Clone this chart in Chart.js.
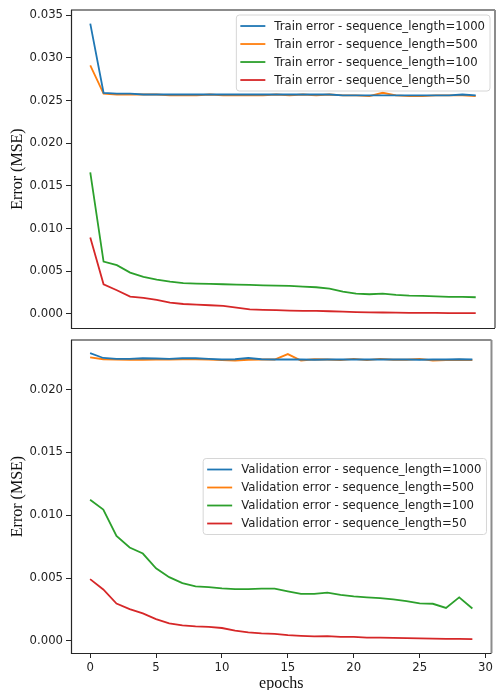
<!DOCTYPE html>
<html>
<head>
<meta charset="utf-8">
<script src="https://cdn.jsdelivr.net/npm/chart.js@4/dist/chart.umd.min.js"></script>
<style>
html,body{margin:0;padding:0;background:#fff;overflow:hidden;width:496px;height:690px;}
#c1{position:absolute;left:0;top:0;}
#c2{position:absolute;left:0;top:330px;}
</style>
</head>
<body>
<canvas id="c1" width="496" height="338"></canvas>
<canvas id="c2" width="496" height="370"></canvas>
<script>
// ---------- data ----------
const epochs = [0,1,2,3,4,5,6,7,8,9,10,11,12,13,14,15,16,17,18,19,20,21,22,23,24,25,26,27,28,29];
const xTicks = [0,5,10,15,20,25,30];
const topYTicks = [0,0.005,0.010,0.015,0.020,0.025,0.030,0.035];
const bottomYTicks = [0,0.005,0.010,0.015,0.020];

const trainLabels = ['Train error - sequence_length=1000','Train error - sequence_length=500','Train error - sequence_length=100','Train error - sequence_length=50'];
const valLabels = ['Validation error - sequence_length=1000','Validation error - sequence_length=500','Validation error - sequence_length=100','Validation error - sequence_length=50'];

const train1000 = [0.0340,0.0259,0.0258,0.0258,0.0257,0.0257,0.0257,0.0257,0.0257,0.0257,0.0257,0.0257,0.0257,0.0257,0.0257,0.0257,0.0257,0.0257,0.0257,0.0256,0.0256,0.0256,0.0256,0.0256,0.0256,0.0256,0.0256,0.0256,0.0257,0.0256];
const train500 = [0.0291,0.0258,0.0257,0.0257,0.0257,0.0257,0.0256,0.0256,0.0256,0.0257,0.0256,0.0256,0.0256,0.0256,0.0257,0.0256,0.0257,0.0256,0.0257,0.0256,0.0256,0.0255,0.0259,0.0256,0.0255,0.0255,0.0256,0.0256,0.0256,0.0255];
const train100 = [0.01659,0.00614,0.00571,0.00485,0.00434,0.00403,0.00380,0.00362,0.00356,0.00352,0.00348,0.00344,0.00340,0.00336,0.00333,0.00329,0.00321,0.00313,0.00298,0.00262,0.00239,0.00231,0.00239,0.00223,0.00215,0.00211,0.00207,0.00200,0.00200,0.00196];
const train50 = [0.00896,0.00348,0.00278,0.00203,0.00188,0.00164,0.00133,0.00117,0.00110,0.00102,0.00094,0.00074,0.00055,0.00048,0.00044,0.00040,0.00036,0.00036,0.00032,0.00028,0.00022,0.00018,0.00017,0.00015,0.00014,0.00013,0.00012,0.00011,0.00010,0.00010];

const val1000 = [0.02290,0.02252,0.02245,0.02245,0.02250,0.02248,0.02245,0.02250,0.02250,0.02245,0.02240,0.02242,0.02252,0.02242,0.02240,0.02240,0.02240,0.02238,0.02240,0.02240,0.02240,0.02240,0.02240,0.02240,0.02240,0.02238,0.02240,0.02240,0.02242,0.02240];
const val500 = [0.02257,0.02242,0.02240,0.02238,0.02238,0.02240,0.02240,0.02242,0.02242,0.02240,0.02235,0.02232,0.02238,0.02240,0.02240,0.02283,0.02232,0.02242,0.02240,0.02235,0.02245,0.02235,0.02245,0.02238,0.02238,0.02245,0.02232,0.02235,0.02238,0.02235];
const val100 = [0.01123,0.01045,0.00835,0.00743,0.00695,0.00577,0.00507,0.00459,0.00433,0.00428,0.00417,0.00412,0.00412,0.00415,0.00415,0.00394,0.00373,0.00373,0.00383,0.00365,0.00354,0.00346,0.00340,0.00330,0.00316,0.00298,0.00295,0.00262,0.00346,0.00257];
const val50 = [0.00491,0.00409,0.00297,0.00252,0.00218,0.00173,0.00139,0.00123,0.00115,0.00111,0.00102,0.00081,0.00068,0.00060,0.00055,0.00045,0.00040,0.00035,0.00037,0.00031,0.00031,0.00026,0.00025,0.00024,0.00022,0.00020,0.00018,0.00016,0.00015,0.00014];

const colors = ['#1f77b4','#ff7f0e','#2ca02c','#d62728'];

// ---------- helpers ----------
const tickFont = {family:'DejaVu Sans', size:11.7};
const titleFont = {family:'Liberation Serif', size:16};
const textColor = '#222222';

function mkDatasets(series, labels){
  return series.map((s,k)=>({
    label: labels[k],
    data: s.map((v,i)=>({x:epochs[i], y:v})),
    borderColor: colors[k],
    backgroundColor: colors[k],
    borderWidth: 1.8,
    pointRadius: 0,
    tension: 0,
    fill: false
  }));
}

const framePlugin = {
  id: 'frame',
  afterDraw(chart){
    const {ctx, chartArea:a} = chart;
    ctx.save();
    ctx.strokeStyle = '#8c8c8c';
    ctx.lineWidth = 2;
    ctx.beginPath();
    ctx.moveTo(a.left, a.top); ctx.lineTo(a.right, a.top);
    ctx.moveTo(a.right, a.top); ctx.lineTo(a.right, a.bottom);
    ctx.stroke();
    ctx.strokeStyle = '#262626';
    ctx.lineWidth = 1.2;
    ctx.beginPath();
    ctx.moveTo(a.left + 0.5, a.top); ctx.lineTo(a.left + 0.5, a.bottom + 0.5); ctx.lineTo(a.right, a.bottom + 0.5);
    ctx.stroke();
    ctx.restore();
  }
};

const legendPlugin = {
  id: 'boxLegend',
  afterDatasetsDraw(chart, args, opts){
    const {ctx, chartArea:a} = chart;
    const ds = chart.data.datasets;
    ctx.save();
    ctx.font = tickFont.size + 'px "' + tickFont.family + '"';
    let tw = 0;
    ds.forEach(d=>{ tw = Math.max(tw, ctx.measureText(d.label).width); });
    const padL = 4, sample = 25, gap = 9, padR = 5, rowH = 18, padV = 11;
    const w = padL + sample + gap + tw + padR;
    const h = padV*2 + rowH*(ds.length-1);
    const x = a.right - 5 - w;
    const y = opts.where === 'top' ? a.top + 5 : (a.top + a.bottom)/2 - h/2;
    const r = 3;
    ctx.beginPath();
    ctx.moveTo(x + r, y); ctx.lineTo(x + w - r, y); ctx.quadraticCurveTo(x + w, y, x + w, y + r);
    ctx.lineTo(x + w, y + h - r); ctx.quadraticCurveTo(x + w, y + h, x + w - r, y + h);
    ctx.lineTo(x + r, y + h); ctx.quadraticCurveTo(x, y + h, x, y + h - r);
    ctx.lineTo(x, y + r); ctx.quadraticCurveTo(x, y, x + r, y);
    ctx.closePath();
    ctx.fillStyle = 'rgba(255,255,255,0.8)';
    ctx.fill();
    ctx.strokeStyle = '#d6d6d6';
    ctx.lineWidth = 1;
    ctx.stroke();
    ds.forEach((d,k)=>{
      const cy = y + padV + k*rowH;
      ctx.strokeStyle = d.borderColor;
      ctx.lineWidth = 1.8;
      ctx.beginPath();
      ctx.moveTo(x + padL, cy); ctx.lineTo(x + padL + sample, cy);
      ctx.stroke();
      ctx.fillStyle = textColor;
      ctx.textBaseline = 'middle';
      ctx.textAlign = 'left';
      ctx.fillText(d.label, x + padL + sample + gap, cy + 0.5);
    });
    ctx.restore();
  }
};

function yScale(min, max, ticks){
  return {
    type: 'linear', min: min, max: max,
    afterBuildTicks: s => { s.ticks = ticks.map(v=>({value:v})); },
    afterFit: s => { s.width = 71; },
    grid: {drawOnChartArea:false, drawTicks:true, tickLength:5, color:'#262626', lineWidth:1},
    border: {display:false},
    ticks: {font: tickFont, color: textColor, padding: 3, callback: v => v.toFixed(3)},
    title: {display:true, text:'Error (MSE)', font: titleFont, color:'#111111', padding:{top:8.4, bottom:0}}
  };
}

// ---------- top chart ----------
new Chart(document.getElementById('c1'), {
  type: 'line',
  data: {datasets: mkDatasets([train1000, train500, train100, train50], trainLabels)},
  options: {
    responsive: false, animation: false, events: [],
    layout: {padding: {top:10, bottom:0, left:0, right:1}},
    plugins: {legend:{display:false}, tooltip:{enabled:false}, boxLegend:{where:'top'}},
    scales: {
      x: {type:'linear', min:-1.45, max:30.45, display:false,
          afterBuildTicks: s => { s.ticks = xTicks.map(v=>({value:v})); }},
      y: yScale(-0.00164, 0.03559, topYTicks)
    }
  },
  plugins: [legendPlugin, framePlugin]
});

// ---------- bottom chart ----------
new Chart(document.getElementById('c2'), {
  type: 'line',
  data: {datasets: mkDatasets([val1000, val500, val100, val50], valLabels)},
  options: {
    responsive: false, animation: false, events: [],
    layout: {padding: {top:7, bottom:0, left:0, right:1}},
    plugins: {legend:{display:false}, tooltip:{enabled:false}, boxLegend:{where:'center'}},
    scales: {
      x: {type:'linear', min:-1.45, max:30.45,
          afterBuildTicks: s => { s.ticks = xTicks.map(v=>({value:v})); },
          afterFit: s => { s.height = 47; },
          grid: {drawOnChartArea:false, drawTicks:true, tickLength:5, color:'#262626', lineWidth:1},
          border: {display:false},
          ticks: {font: tickFont, color: textColor, padding: 3, maxRotation:0, autoSkip:false, callback: v => String(v)},
          title: {display:true, text:'epochs', font: titleFont, color:'#111111', padding:{top:0, bottom:6.4}}
      },
      y: yScale(-0.00097, 0.02395, bottomYTicks)
    }
  },
  plugins: [legendPlugin, framePlugin]
});
</script>
</body>
</html>
